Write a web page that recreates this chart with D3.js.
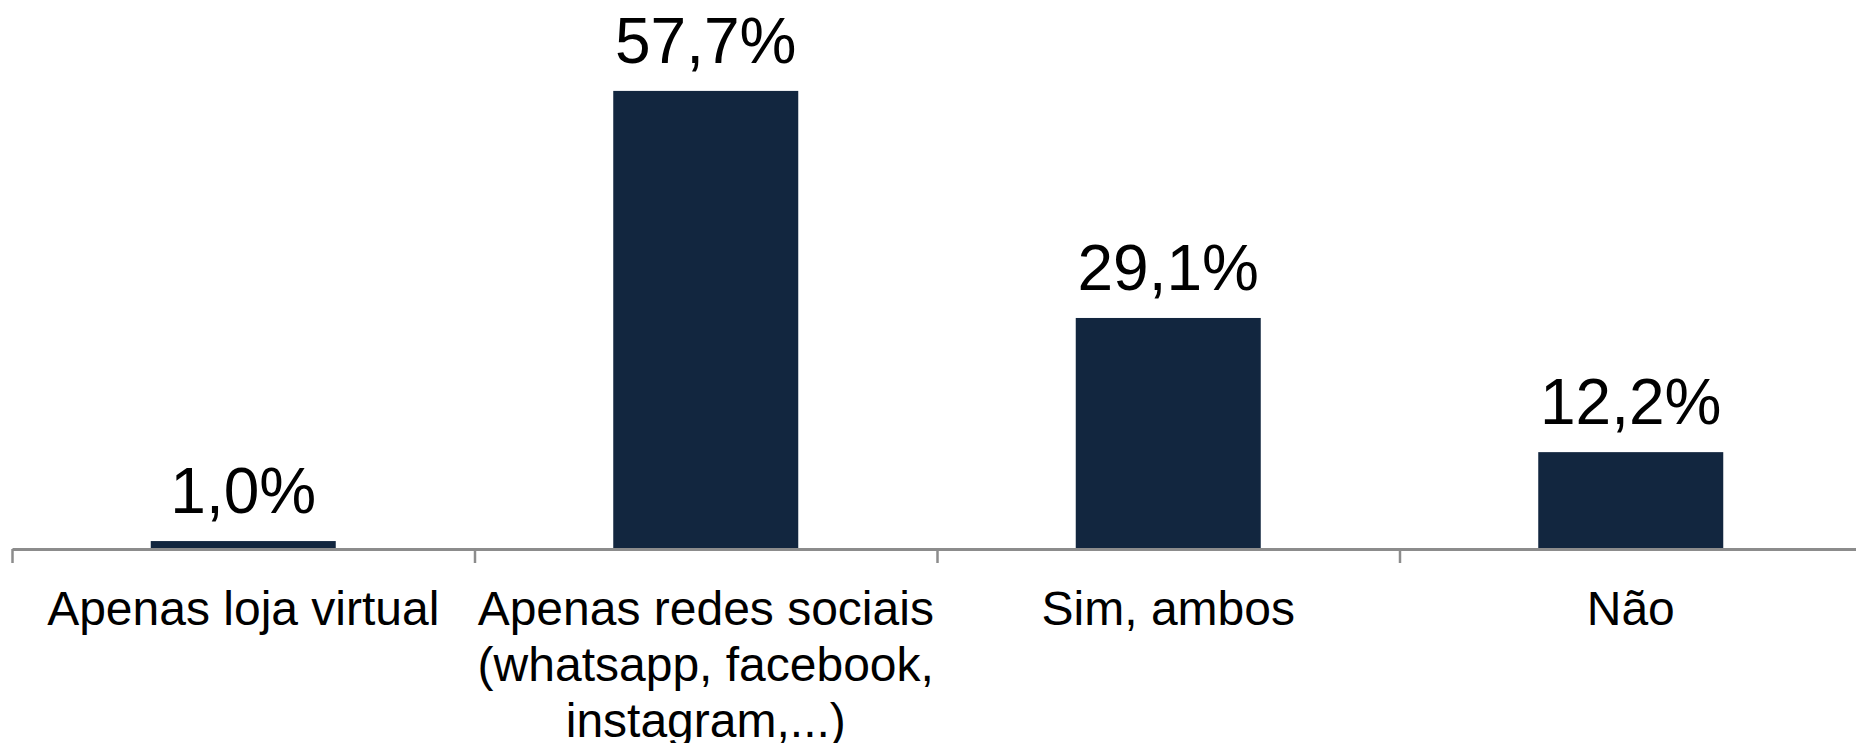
<!DOCTYPE html>
<html>
<head>
<meta charset="utf-8">
<script src="https://cdn.jsdelivr.net/npm/d3@7"></script>
<style>
  body { margin: 0; background: #fff; }
  svg { display: block; font-family: "Liberation Sans", Arial, sans-serif; }
</style>
</head>
<body>
<svg id="chart" width="1856" height="743"></svg>
<script>
// categories (each label split in the lines shown under the axis)
const categories = ["Apenas loja virtual", "Apenas redes sociais", "Sim, ambos", "Não"]
const labelLines = [
  ["Apenas loja virtual"],
  ["Apenas redes sociais", "(whatsapp, facebook,", "instagram,...)"],
  ["Sim, ambos"],
  ["Não"]
]
const values = [1.0, 57.7, 29.1, 12.2]

const fmt = v => v.toFixed(1).replace(".", ",") + "%"

const svg = d3.select("#chart")
const axisY = 549, left = 12, right = 1862

// bars sit in the middle 40% of each category slot
const x = d3.scaleBand()
  .domain(categories)
  .range([left, right])
  .paddingInner(0.6)
  .paddingOuter(0.3)

// slot edges for the tick marks
const xEdge = d3.scaleLinear().domain([0, categories.length]).range([left, right])

const y = d3.scaleLinear().domain([0, 69.15]).range([axisY, 0])

svg.append("g")
  .selectAll("rect")
  .data(values)
  .join("rect")
  .attr("x", (d, i) => x(categories[i]))
  .attr("y", d => y(d))
  .attr("width", x.bandwidth())
  .attr("height", d => axisY - y(d))
  .attr("fill", "#12263f")

// value labels
svg.append("g")
  .selectAll("text")
  .data(values)
  .join("text")
  .attr("x", (d, i) => x(categories[i]) + x.bandwidth() / 2)
  .attr("y", d => y(d) - 28)
  .attr("text-anchor", "middle")
  .attr("font-size", 64)
  .attr("fill", "#000")
  .text(d => fmt(d))

// axis line + slot ticks
const axis = svg.append("g")
  .attr("transform", `translate(0,${axisY})`)
  .call(d3.axisBottom(xEdge)
    .tickValues(d3.range(categories.length + 1))
    .tickFormat("")
    .tickSizeInner(14)
    .tickSizeOuter(0))
axis.select(".domain").attr("stroke", "#8c8c8c").attr("stroke-width", 3)
axis.selectAll(".tick line").attr("stroke", "#8c8c8c").attr("stroke-width", 2.5)

// category labels
const lab = svg.append("g")
  .selectAll("text")
  .data(labelLines)
  .join("text")
  .attr("text-anchor", "middle")
  .attr("font-size", 48)
  .attr("fill", "#000")
  .attr("transform", (d, i) => `translate(${x(categories[i]) + x.bandwidth() / 2},625)`)

lab.selectAll("tspan")
  .data(d => d)
  .join("tspan")
  .attr("x", 0)
  .attr("y", (d, j) => j * 56)
  .text(d => d)
</script>
</body>
</html>
